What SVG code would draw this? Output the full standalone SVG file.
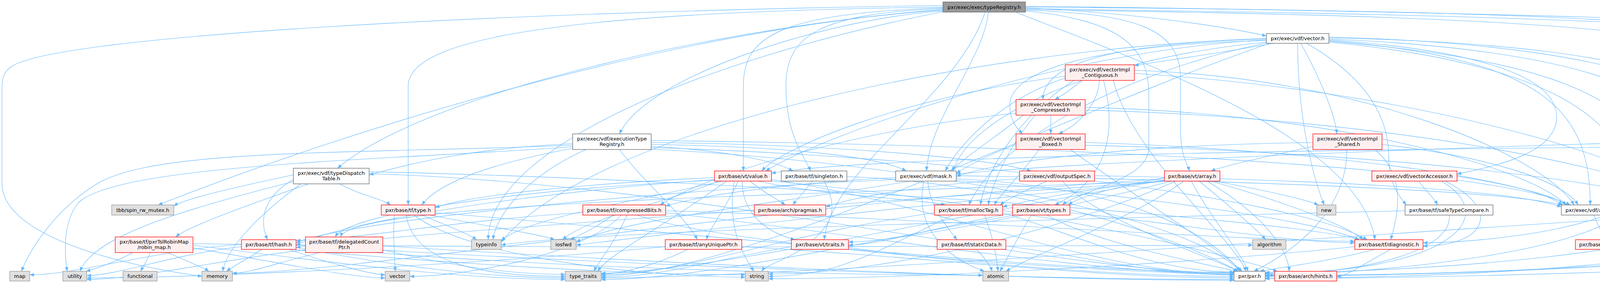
<svg xmlns="http://www.w3.org/2000/svg" width="5248" height="725" viewBox="0 0 5248 725">
<style>
.e path{fill:none;stroke:#63b8ff;stroke-width:1.1;marker-end:url(#ah)}
rect{stroke-width:1.3}
.m{fill:#999999;stroke:#666666}
.w{fill:#ffffff;stroke:#666666}
.r{fill:#fff0f0;stroke:#ff0000}
.g{fill:#e0e0e0;stroke:#999999}
text{font-family:"DejaVu Sans",sans-serif;font-size:13px;text-anchor:middle;fill:#000000}
</style>
<defs>
<marker id="ah" viewBox="0 0 11 9" refX="11" refY="4.5" markerWidth="11" markerHeight="9" orient="auto" markerUnits="userSpaceOnUse"><path d="M0,0 L11,4.5 L0,9 z" fill="#63b8ff"/></marker>
</defs>
<rect x="0" y="0" width="5248" height="725" fill="#ffffff"/>
<g id="connectors" class="e">
<path d="M2625,20 C2850,30 3100,60 3242,92"/>
<path d="M2625,16 C3400,25 4600,50 5053,86"/>
<path d="M2625,22 C3900,40 4860,60 4893,173"/>
<path d="M2625,24 C3900,45 4770,60 4772,343"/>
<path d="M2625,18 C4200,30 5015,60 5015,300 C5015,690 3700,712 3239,712"/>
<path d="M2414,28 C2100,50 1650,200 1586,343"/>
<path d="M2414,26 C1900,60 1100,230 864,431"/>
<path d="M2414,24 C1700,80 900,330 405,525"/>
<path d="M2414,30 C1800,150 1250,380 1250,614"/>
<path d="M2414,14 C1300,30 150,90 30,170 C8,185 5,200 5,230 L5,470 C5,590 250,670 517,708"/>
<path d="M2414,18 C1500,30 1045,90 1045,220 L1045,525"/>
<path d="M2414,20 C2000,35 1903,90 1903,220 L1903,438"/>
<path d="M2414,22 C2100,35 2012,90 2012,220 C2012,350 2060,400 2075,438"/>
<path d="M2530,31 C2520,150 2380,300 2372,438"/>
<path d="M2522,31 C2450,250 2130,430 2110,614"/>
<path d="M2625,26 C2900,35 3022,70 3022,200 L3022,330 C3022,400 3040,420 3045,438"/>
<path d="M2625,28 C2850,50 2941,110 2941,240 L2941,380 C2941,460 2760,490 2720,525"/>
<path d="M2600,31 C2900,150 3480,350 3520,614"/>
<path d="M1466,368 C1200,380 1050,420 945,448"/>
<path d="M1586,383 C1650,470 1760,560 1785,614"/>
<path d="M1466,380 C1250,420 1120,470 1080,525"/>
<path d="M1466,372 C900,395 400,380 250,470 C150,530 80,630 55,695"/>
<path d="M1466,376 C1000,410 300,420 200,520 C160,570 165,650 172,695"/>
<path d="M1667,375 C1850,385 1980,410 2030,438"/>
<path d="M1667,365 C2100,370 2500,400 2640,438"/>
<path d="M1667,370 C2000,375 2250,400 2320,438"/>
<path d="M1667,360 C2600,370 3800,420 4020,525"/>
<path d="M1667,378 C2400,400 3300,500 3500,614"/>
<path d="M1667,382 C2400,420 3050,560 3175,695"/>
<path d="M1500,383 C1350,450 1270,550 1262,614"/>
<path d="M751,448 C600,480 470,510 445,528"/>
<path d="M790,471 C650,520 480,580 450,607"/>
<path d="M751,460 C680,500 660,560 685,614"/>
<path d="M870,471 C920,500 980,510 1000,525"/>
<path d="M751,465 C500,530 240,600 205,695"/>
<path d="M945,445 C1800,470 2700,700 3159,700"/>
<path d="M945,440 C1900,460 3300,560 3480,614"/>
<path d="M770,471 C650,560 580,640 570,695"/>
<path d="M3260,111 C3100,140 2950,160 2904,168"/>
<path d="M3242,100 C2900,110 2670,150 2670,255"/>
<path d="M3242,104 C2800,115 2585,180 2585,270 C2585,310 2605,330 2618,343"/>
<path d="M3330,111 C3380,200 3420,300 3422,343"/>
<path d="M3322,111 C3322,300 3360,450 3390,525"/>
<path d="M3402,95 C4000,110 4390,200 4395,343"/>
<path d="M3402,97 C4300,115 4510,250 4510,431"/>
<path d="M3402,100 C3900,120 4283,200 4283,350 C4283,430 4350,480 4390,518"/>
<path d="M3402,102 C3800,130 3985,200 3985,300 C3985,400 3800,430 3730,446"/>
<path d="M3402,104 C3950,150 4071,280 4071,525"/>
<path d="M3402,106 C3950,150 4223,250 4223,450 C4223,580 3800,622 3643,622"/>
<path d="M3402,108 C3950,160 4174,300 4174,500 C4174,650 3450,705 3239,705"/>
<path d="M3242,108 C2800,150 2480,300 2440,438"/>
<path d="M3242,110 C2900,180 2560,350 2480,525"/>
<path d="M3345,111 C3500,200 3555,300 3555,400 C3555,470 3580,500 3600,525"/>
<path d="M3250,111 C2700,300 1900,707 1539,707"/>
<path d="M3242,98 C2400,130 1500,350 1283,620"/>
<path d="M3242,102 C2700,130 2100,350 1960,438"/>
<path d="M2770,206 C2740,230 2720,245 2700,255"/>
<path d="M2815,206 C2810,270 2760,320 2710,343"/>
<path d="M2825,206 C2850,300 2860,450 2700,525"/>
<path d="M2904,180 C3500,200 3950,400 4030,525"/>
<path d="M2904,188 C3600,230 4200,400 4330,518"/>
<path d="M2727,200 C2550,260 2450,380 2420,438"/>
<path d="M2750,206 C2600,300 2520,450 2510,525"/>
<path d="M2727,195 C2300,250 2000,380 1950,438"/>
<path d="M2850,206 C2900,400 3150,600 3190,695"/>
<path d="M2690,295 L2690,343"/>
<path d="M2620,295 C2550,350 2460,410 2435,438"/>
<path d="M2650,295 C2580,380 2540,470 2530,525"/>
<path d="M2778,275 C3400,290 3900,420 4010,525"/>
<path d="M2778,282 C3500,300 4150,420 4325,518"/>
<path d="M2601,290 C2200,330 1800,450 1690,525"/>
<path d="M2601,370 C2520,400 2470,430 2448,444"/>
<path d="M2660,383 C2620,440 2560,500 2545,525"/>
<path d="M2778,365 C3300,380 3900,450 4000,525"/>
<path d="M2778,372 C3500,390 4150,460 4312,530"/>
<path d="M2740,383 C2900,500 3100,620 3180,695"/>
<path d="M3361,375 C3250,400 3150,420 3100,438"/>
<path d="M3361,365 C3000,370 2600,400 2448,452"/>
<path d="M3538,370 C3800,400 4000,460 4040,525"/>
<path d="M3448,383 C3448,550 3300,650 3210,695"/>
<path d="M3520,383 C3600,450 3580,550 3560,614"/>
<path d="M4380,383 C4250,450 4150,500 4110,525"/>
<path d="M4430,383 C4460,400 4475,418 4485,431"/>
<path d="M4400,383 C4398,430 4405,490 4405,518"/>
<path d="M4312,362 C3600,380 2700,420 2448,446"/>
<path d="M4490,372 C4650,420 4650,600 4500,650 C4200,690 3500,708 3239,708"/>
<path d="M4413,465 C4300,490 4200,510 4136,528"/>
<path d="M4480,471 C4470,490 4460,505 4455,518"/>
<path d="M4520,471 C4560,560 4450,650 4100,680 C3800,700 3450,706 3239,706"/>
<path d="M4666,373 C3500,380 2200,400 1975,444"/>
<path d="M4790,383 C4840,470 4900,580 4850,640 C4750,690 3600,714 3239,714"/>
<path d="M4907,199 C4920,350 4700,560 4201,625"/>
<path d="M4080,551 C4090,575 4100,595 4110,614"/>
<path d="M4400,558 C4300,640 3700,698 3239,698"/>
<path d="M4312,550 C3500,600 2000,712 1539,712"/>
<path d="M3632,464 C3650,490 3670,505 3680,525"/>
<path d="M3700,464 C3850,540 3800,630 3643,630"/>
<path d="M3730,452 C3850,470 3980,500 4010,525"/>
<path d="M3690,464 C3850,560 3700,700 3239,700"/>
<path d="M3710,551 C3720,640 3500,702 3239,702"/>
<path d="M3597,540 C2800,560 1500,590 1283,628"/>
<path d="M2293,455 C2000,470 1800,500 1704,528"/>
<path d="M2375,464 C2380,530 2430,590 2450,614"/>
<path d="M2365,464 C2340,580 2420,660 2520,695"/>
<path d="M2448,458 C2900,480 3100,600 3175,695"/>
<path d="M2448,450 C3000,460 3800,480 4000,525"/>
<path d="M2293,460 C1800,480 900,560 758,622"/>
<path d="M2448,462 C2900,500 3350,560 3480,614"/>
<path d="M2330,464 C2000,520 1600,560 1475,620"/>
<path d="M2680,464 C2620,490 2580,510 2560,525"/>
<path d="M2610,458 C2400,470 2200,500 2114,530"/>
<path d="M2802,450 C3300,460 3850,480 3997,530"/>
<path d="M2720,464 C2800,560 3080,650 3170,695"/>
<path d="M1920,464 C1950,490 1990,510 2010,525"/>
<path d="M1890,464 C1860,530 1820,580 1808,614"/>
<path d="M1900,464 C1900,560 1980,600 2035,614"/>
<path d="M1829,455 C1500,470 1200,500 1114,532"/>
<path d="M1940,464 C2100,500 2350,510 2420,525"/>
<path d="M1829,460 C1400,490 900,560 758,628"/>
<path d="M1975,460 C2400,520 2800,703 3159,703"/>
<path d="M1850,464 C1600,520 1350,560 1283,616"/>
<path d="M1860,464 C1700,580 1560,650 1530,695"/>
<path d="M1880,464 C1860,580 1900,650 1930,695"/>
<path d="M1840,464 C1700,520 1500,560 1440,614"/>
<path d="M1975,464 C2600,520 3100,640 3270,695"/>
<path d="M1829,462 C1400,480 900,540 858,607"/>
<path d="M2080,464 C2060,490 2040,510 2030,525"/>
<path d="M2110,464 C2150,540 2130,580 2050,640 C2000,670 1960,680 1950,695"/>
<path d="M2168,452 C2600,470 3000,600 3170,695"/>
<path d="M2981,455 C2850,480 2760,505 2735,525"/>
<path d="M3000,464 C2700,540 2300,620 2172,620"/>
<path d="M2990,462 C2800,480 2650,510 2567,530"/>
<path d="M3070,464 C3150,530 3220,590 3240,614"/>
<path d="M3110,464 C3250,490 3340,510 3375,525"/>
<path d="M3100,464 C3300,520 3450,580 3490,614"/>
<path d="M3050,464 C3100,560 3180,650 3195,695"/>
<path d="M3090,464 C3250,560 3300,650 3300,695"/>
<path d="M3030,464 C2900,560 2650,650 2575,695"/>
<path d="M2981,462 C2500,540 1800,700 1539,700"/>
<path d="M2985,464 C2400,520 1700,600 1475,628"/>
<path d="M2981,458 C2000,520 900,700 595,700"/>
<path d="M2990,464 C2200,520 1000,600 758,634"/>
<path d="M2995,464 C2000,500 900,520 872,607"/>
<path d="M3010,464 C2700,600 2250,702 1967,702"/>
<path d="M2680,551 C2800,620 3050,670 3168,695"/>
<path d="M2640,551 C2610,600 2580,660 2560,695"/>
<path d="M2600,551 C2200,620 1800,716 1539,716"/>
<path d="M2600,545 C2400,580 2250,628 2172,628"/>
<path d="M2739,545 C3000,570 3300,622 3468,622"/>
<path d="M1010,551 C1005,600 1010,650 1012,695"/>
<path d="M1080,551 C1150,580 1200,600 1220,614"/>
<path d="M1100,551 C1250,580 1380,600 1420,614"/>
<path d="M1040,551 C1060,680 1250,708 1447,708"/>
<path d="M1060,551 C1200,660 1650,710 1908,710"/>
<path d="M1114,545 C1800,600 2700,698 3159,698"/>
<path d="M1570,551 C1530,580 1490,600 1460,614"/>
<path d="M1605,551 C1580,610 1540,660 1520,695"/>
<path d="M1590,551 C1500,650 1200,708 1049,708"/>
<path d="M1704,545 C2200,600 2800,702 3159,702"/>
<path d="M1704,540 C2400,560 3200,618 3468,618"/>
<path d="M1630,551 C1900,640 2900,705 3263,705"/>
<path d="M1492,545 C1200,560 900,616 758,616"/>
<path d="M2567,545 C2750,600 2950,697 3159,697"/>
<path d="M2520,551 C2540,600 2550,650 2555,695"/>
<path d="M2440,551 C2250,640 2150,708 1967,708"/>
<path d="M2392,545 C2000,600 1750,704 1539,704"/>
<path d="M2026,632 C1850,660 1700,710 1539,710"/>
<path d="M2172,634 C2500,680 2900,708 3159,708"/>
<path d="M2500,639 C2520,660 2535,680 2540,695"/>
<path d="M2575,630 C2800,660 2950,704 3159,704"/>
<path d="M1760,639 C1700,670 1600,702 1539,702"/>
<path d="M1703,632 C1200,680 500,712 222,712"/>
<path d="M1899,632 C2400,660 2800,712 3159,712"/>
<path d="M670,639 C640,660 600,680 580,695"/>
<path d="M618,632 C450,650 300,706 222,706"/>
<path d="M618,626 C400,640 200,704 76,704"/>
<path d="M740,639 C830,670 950,704 986,704"/>
<path d="M758,634 C1000,680 1250,712 1447,712"/>
<path d="M750,639 C1200,680 1650,704 1908,704"/>
<path d="M758,628 C1600,680 2600,716 3159,716"/>
<path d="M820,647 C720,670 640,700 595,700"/>
<path d="M782,640 C600,660 350,716 222,716"/>
<path d="M980,640 C1150,680 1300,703 1447,703"/>
<path d="M980,630 C1800,680 2600,718 3159,718"/>
<path d="M960,647 C1500,690 2200,705 2516,705"/>
<path d="M340,647 C300,670 240,690 220,695"/>
<path d="M385,647 C375,670 365,685 360,695"/>
<path d="M430,647 C480,670 520,685 535,695"/>
<path d="M494,628 C900,680 1200,716 1447,716"/>
<path d="M494,635 C700,670 900,712 986,712"/>
<path d="M494,624 C1500,640 2800,628 3207,628"/>
<path d="M3520,639 C3400,670 3280,685 3225,695"/>
<path d="M3560,639 C3500,670 3450,708 3422,708"/>
<path d="M3468,632 C3000,680 2300,714 1967,714"/>
</g>
<g id="n0"><rect class="m" x="2414" y="5" width="211" height="26"/><text x="2519.5" y="22.5">pxr/exec/exec/typeRegistry.h</text></g>
<g id="n1"><rect class="w" x="3242" y="86" width="160" height="25"/><text x="3322" y="103">pxr/exec/vdf/vector.h</text></g>
<g id="n2"><rect class="g" x="5053" y="79" width="190" height="40"/><text x="5148" y="95.5">tbb/concurrent_unordered</text><text x="5148" y="109.5">_map.h</text></g>
<g id="n3"><rect class="w" x="4829" y="173" width="149" height="26"/><text x="4903.5" y="190.5">pxr/exec/exec/api.h</text></g>
<g id="n4"><rect class="r" x="2727" y="166" width="177" height="40"/><text x="2815.5" y="182.5">pxr/exec/vdf/vectorImpl</text><text x="2815.5" y="196.5">_Contiguous.h</text></g>
<g id="n5"><rect class="r" x="2601" y="255" width="177" height="40"/><text x="2689.5" y="271.5">pxr/exec/vdf/vectorImpl</text><text x="2689.5" y="285.5">_Compressed.h</text></g>
<g id="n6"><rect class="r" x="2601" y="343" width="177" height="40"/><text x="2689.5" y="359.5">pxr/exec/vdf/vectorImpl</text><text x="2689.5" y="373.5">_Boxed.h</text></g>
<g id="n7"><rect class="r" x="3361" y="343" width="177" height="40"/><text x="3449.5" y="359.5">pxr/exec/vdf/vectorImpl</text><text x="3449.5" y="373.5">_Shared.h</text></g>
<g id="n8"><rect class="r" x="4312" y="343" width="178" height="40"/><text x="4401" y="359.5">pxr/exec/vdf/vectorImpl</text><text x="4401" y="373.5">_Single.h</text></g>
<g id="n9"><rect class="w" x="4666" y="343" width="212" height="40"/><text x="4772" y="359.5">pxr/exec/exec/valueExtractor</text><text x="4772" y="373.5">Function.h</text></g>
<g id="n10"><rect class="w" x="1466" y="343" width="201" height="40"/><text x="1566.5" y="359.5">pxr/exec/vdf/executionType</text><text x="1566.5" y="373.5">Registry.h</text></g>
<g id="n11"><rect class="w" x="751" y="431" width="194" height="40"/><text x="848" y="447.5">pxr/exec/vdf/typeDispatch</text><text x="848" y="461.5">Table.h</text></g>
<g id="n12"><rect class="r" x="1829" y="438" width="146" height="26"/><text x="1902" y="455.5">pxr/base/vt/value.h</text></g>
<g id="n13"><rect class="w" x="2000" y="438" width="168" height="26"/><text x="2084" y="455.5">pxr/base/tf/singleton.h</text></g>
<g id="n14"><rect class="w" x="2293" y="438" width="155" height="26"/><text x="2370.5" y="455.5">pxr/exec/vdf/mask.h</text></g>
<g id="n15"><rect class="r" x="2610" y="438" width="192" height="26"/><text x="2706" y="455.5">pxr/exec/vdf/outputSpec.h</text></g>
<g id="n16"><rect class="r" x="2981" y="438" width="142" height="26"/><text x="3052" y="455.5">pxr/base/vt/array.h</text></g>
<g id="n17"><rect class="r" x="3512" y="438" width="218" height="26"/><text x="3621" y="455.5">pxr/exec/vdf/vectorAccessor.h</text></g>
<g id="n18"><rect class="r" x="4413" y="431" width="178" height="40"/><text x="4502" y="447.5">pxr/exec/vdf/vectorImpl</text><text x="4502" y="461.5">_Empty.h</text></g>
<g id="n19"><rect class="g" x="286" y="525" width="159" height="26"/><text x="365.5" y="542.5">tbb/spin_rw_mutex.h</text></g>
<g id="n20"><rect class="r" x="976" y="525" width="138" height="26"/><text x="1045" y="542.5">pxr/base/tf/type.h</text></g>
<g id="n21"><rect class="r" x="1492" y="525" width="212" height="26"/><text x="1598" y="542.5">pxr/base/tf/compressedBits.h</text></g>
<g id="n22"><rect class="r" x="1931" y="525" width="183" height="26"/><text x="2022.5" y="542.5">pxr/base/arch/pragmas.h</text></g>
<g id="n23"><rect class="r" x="2392" y="525" width="175" height="26"/><text x="2479.5" y="542.5">pxr/base/tf/mallocTag.h</text></g>
<g id="n24"><rect class="r" x="2592" y="525" width="147" height="26"/><text x="2665.5" y="542.5">pxr/base/vt/types.h</text></g>
<g id="n25"><rect class="g" x="3371" y="525" width="49" height="26"/><text x="3395.5" y="542.5">new</text></g>
<g id="n26"><rect class="w" x="3597" y="525" width="225" height="26"/><text x="3709.5" y="542.5">pxr/base/tf/safeTypeCompare.h</text></g>
<g id="n27"><rect class="w" x="3997" y="525" width="139" height="26"/><text x="4066.5" y="542.5">pxr/exec/vdf/api.h</text></g>
<g id="n28"><rect class="w" x="4312" y="518" width="209" height="40"/><text x="4416.5" y="534.5">pxr/exec/vdf/boxedContainer</text><text x="4416.5" y="548.5">Traits.h</text></g>
<g id="n29"><rect class="r" x="295" y="607" width="199" height="40"/><text x="394.5" y="623.5">pxr/base/tf/pxrTslRobinMap</text><text x="394.5" y="637.5">/robin_map.h</text></g>
<g id="n30"><rect class="r" x="618" y="614" width="140" height="25"/><text x="688" y="631">pxr/base/tf/hash.h</text></g>
<g id="n31"><rect class="r" x="782" y="607" width="198" height="40"/><text x="881" y="623.5">pxr/base/tf/delegatedCount</text><text x="881" y="637.5">Ptr.h</text></g>
<g id="n32"><rect class="g" x="1207" y="614" width="76" height="25"/><text x="1245" y="631">typeinfo</text></g>
<g id="n33"><rect class="g" x="1410" y="614" width="65" height="25"/><text x="1442.5" y="631">iosfwd</text></g>
<g id="n34"><rect class="r" x="1703" y="614" width="196" height="25"/><text x="1801" y="631">pxr/base/tf/anyUniquePtr.h</text></g>
<g id="n35"><rect class="r" x="2026" y="614" width="146" height="25"/><text x="2099" y="631">pxr/base/vt/traits.h</text></g>
<g id="n36"><rect class="r" x="2399" y="614" width="176" height="25"/><text x="2487" y="631">pxr/base/tf/staticData.h</text></g>
<g id="n37"><rect class="g" x="3207" y="614" width="85" height="25"/><text x="3249.5" y="631">algorithm</text></g>
<g id="n38"><rect class="r" x="3468" y="614" width="175" height="25"/><text x="3555.5" y="631">pxr/base/tf/diagnostic.h</text></g>
<g id="n39"><rect class="r" x="4033" y="614" width="168" height="25"/><text x="4117" y="631">pxr/base/arch/export.h</text></g>
<g id="n40"><rect class="g" x="25" y="695" width="51" height="25"/><text x="50.5" y="712">map</text></g>
<g id="n41"><rect class="g" x="161" y="695" width="61" height="25"/><text x="191.5" y="712">utility</text></g>
<g id="n42"><rect class="g" x="315" y="695" width="87" height="25"/><text x="358.5" y="712">functional</text></g>
<g id="n43"><rect class="g" x="517" y="695" width="78" height="25"/><text x="556" y="712">memory</text></g>
<g id="n44"><rect class="g" x="986" y="695" width="63" height="25"/><text x="1017.5" y="712">vector</text></g>
<g id="n45"><rect class="g" x="1447" y="695" width="92" height="25"/><text x="1493" y="712">type_traits</text></g>
<g id="n46"><rect class="g" x="1908" y="695" width="59" height="25"/><text x="1937.5" y="712">string</text></g>
<g id="n47"><rect class="g" x="2516" y="695" width="66" height="25"/><text x="2549" y="712">atomic</text></g>
<g id="n48"><rect class="w" x="3159" y="695" width="80" height="25"/><text x="3199" y="712">pxr/pxr.h</text></g>
<g id="n49"><rect class="r" x="3263" y="695" width="159" height="25"/><text x="3342.5" y="712">pxr/base/arch/hints.h</text></g>
</svg>
